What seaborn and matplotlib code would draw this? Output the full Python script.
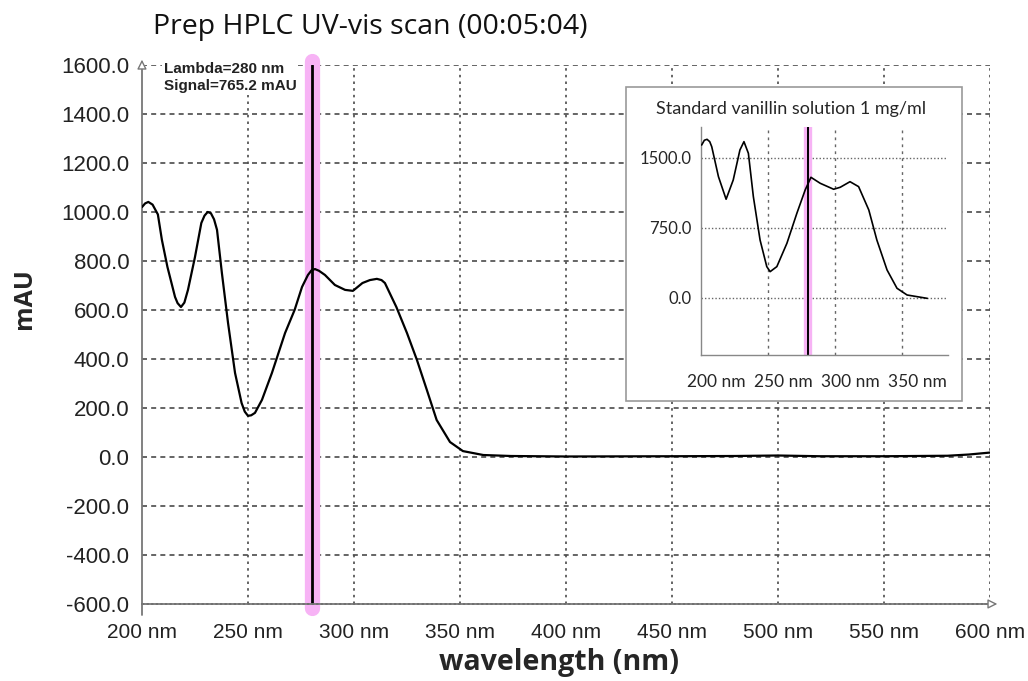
import numpy as np
import pandas as pd
import seaborn as sns
import matplotlib.pyplot as plt
import matplotlib.transforms as mtransforms
from matplotlib.patches import Rectangle

# main scan (Prep HPLC, 00:05:04)
wavelength = [200, 201.5, 203, 205, 207.5, 209.4, 212, 215.6, 216.8, 218.4, 220,
              221.7, 225, 228, 229.5, 231, 232.5, 234, 235.4, 237.7, 240.6,
              243.9, 247, 248.5, 250, 251.5, 253.3, 256.6, 261.3, 267.5,
              272, 275.5, 278.3, 280, 281.6, 283.5, 286.3, 291, 295.8, 299.5,
              304, 307.5, 310.8, 313, 314.6, 320, 325, 329.7, 334.4, 339,
              345.3, 351.4, 361, 374, 400, 450, 480, 500, 520, 550, 580, 590, 600]
signal = [1020, 1035, 1041, 1030, 990, 886, 776, 653, 628, 612, 630,
          682, 816, 955, 985, 1000, 995, 970, 927, 751, 547,
          343, 220, 185, 168, 170, 180, 233, 343, 506,
          600, 694, 743, 762, 767, 760, 743, 702, 682, 678,
          710, 722, 727, 722, 710, 612, 506, 396, 273, 151,
          61, 24, 8, 4, 2, 3, 4, 6, 3, 3, 5, 10, 18]

# standard vanillin 1 mg/ml
std_wavelength = [200.5, 202.5, 204.5, 206.5, 208, 213, 218.7, 224, 229, 232,
                  235.3, 239, 244, 249, 251.5, 256.5, 264, 271.4, 277.6, 281.9,
                  288.8, 298.8, 303.7, 311, 317.4, 325, 331, 338.6, 346, 353.5,
                  361, 368.5]
std_signal = [1639, 1690, 1700, 1675, 1621, 1300, 1058, 1264, 1586, 1675,
              1550, 1086, 621, 336, 282, 336, 586, 907, 1157, 1293,
              1229, 1165, 1186, 1246, 1193, 943, 621, 300, 104, 32,
              14, -4]

lambda_sel = 280
signal_sel = 765.2

main_xticks = [200, 250, 300, 350, 400, 450, 500, 550, 600]
main_yticks = [-600, -400, -200, 0, 200, 400, 600, 800, 1000, 1200, 1400, 1600]
inset_xticks = [200, 250, 300, 350]
inset_yticks = [0, 750, 1500]

sns.set_style("white")
plt.rcParams['font.family'] = ['Liberation Sans', 'DejaVu Sans']

fig = plt.figure(figsize=(10.28, 6.81), dpi=100)
ax = fig.add_axes([0.1381, 0.1131, 0.8249, 0.7915])

grid_col = "#4a4a4a"
for t in main_yticks[1:]:
    ax.axhline(t, color=grid_col, lw=1.2, ls=(0, (3, 2.5)), zorder=0)
for t in main_xticks[1:]:
    ax.axvline(t, color=grid_col, lw=1.2, ls=(0, (1.5, 2.5)), zorder=0)

ax.axvline(lambda_sel, ymin=-0.008, ymax=1.008, color="#f7b3f5", lw=11,
           solid_capstyle="round", clip_on=False, zorder=1)
ax.axvline(lambda_sel, color="black", lw=2, zorder=2)

df = pd.DataFrame({"wavelength": wavelength, "signal": signal})
sns.lineplot(data=df, x="wavelength", y="signal", ax=ax, color="black", lw=1.6, zorder=3)

ax.set_xlim(200, 600)
ax.set_ylim(-600, 1600)
ax.set_xticks(main_xticks)
ax.set_xticklabels([f"{t} nm" for t in main_xticks])
ax.set_yticks(main_yticks)
ax.set_yticklabels([f"{t:.1f}" for t in main_yticks])
ax.tick_params(axis="y", labelsize=16, length=8, width=1.2, color="#777777",
               labelcolor="#222222", pad=1)
ax.tick_params(axis="x", labelsize=15, length=0, pad=14, labelcolor="#222222")
for s in ["top", "right"]:
    ax.spines[s].set_visible(False)
ax.spines["left"].set_color("#777777")
ax.spines["left"].set_linewidth(1.3)
ax.spines["bottom"].set_color("#777777")
ax.spines["bottom"].set_linewidth(1.3)
ax.axhline(-600, color="black", lw=1.1, ls=(0, (1.5, 1.5)), zorder=2, clip_on=False)
ax.plot([0, 0], [-0.02, 0], transform=ax.transAxes, color="#777777", lw=1.3, clip_on=False)

# arrow heads on the axes
ax.annotate("", xy=(0, 1.015), xycoords="axes fraction", xytext=(0, 0.99),
            arrowprops=dict(arrowstyle="-|>", fc="white", ec="#777777", lw=1, mutation_scale=14))
ax.annotate("", xy=(1.012, 0), xycoords="axes fraction", xytext=(0.99, 0),
            arrowprops=dict(arrowstyle="-|>", fc="white", ec="#777777", lw=1, mutation_scale=14))

ax.text(0.026, 1.006, f"Lambda={lambda_sel} nm\nSignal={signal_sel} mAU",
        transform=ax.transAxes, ha="left", va="top", fontsize=11, fontweight="bold",
        color="#222222", linespacing=1.3,
        bbox=dict(boxstyle="square,pad=0.1", fc="white", ec="none"), zorder=4)

ax.set_xlabel("wavelength (nm)", fontsize=20.5, fontweight="bold", family="Open Sans",
              va="center")
ax.xaxis.set_label_coords(0.492, -0.108)
ax.set_ylabel("mAU", fontsize=18, fontweight="bold", family="Open Sans")
ax.yaxis.set_label_coords(-0.124, 0.566)
fig.text(153 / 1028, 1 - 27 / 681, "Prep HPLC UV-vis scan (00:05:04)", fontsize=20.5,
         family="Open Sans", ha="left", va="center", color="#111111")

# inset with the standard
box = Rectangle((626 / 1028, 1 - 401 / 681), 336 / 1028, 314 / 681,
                transform=fig.transFigure, fc="white", ec="#9a9a9a", lw=1.2, zorder=5)
fig.patches.append(box)
fig.text(791 / 1028, 1 - 109 / 681, "Standard vanillin solution 1 mg/ml",
         fontsize=13, family="Lato", ha="center", va="center", zorder=6)

axi = fig.add_axes([701 / 1028, 1 - 355 / 681, 247 / 1028, 228 / 681], zorder=6)
axi.patch.set_alpha(0)
for t in inset_yticks:
    axi.axhline(t, color="#666666", lw=1, ls=(0, (1, 1.5)), zorder=0)
for t in inset_xticks[1:]:
    axi.axvline(t, color="#666666", lw=1, ls=(0, (2, 3)), zorder=0)
axi.axvline(lambda_sel, color="#f7b3f5", lw=6, zorder=1)
axi.axvline(lambda_sel, color="black", lw=1.4, zorder=2)
dfi = pd.DataFrame({"wavelength": std_wavelength, "signal": std_signal})
sns.lineplot(data=dfi, x="wavelength", y="signal", ax=axi, color="black", lw=1.2, zorder=3)
axi.set_xlim(200, 384)
axi.set_ylim(-611, 1832)
axi.set_xticks(inset_xticks)
axi.set_xticklabels([f"{t} nm" for t in inset_xticks], family="Lato", fontsize=12.5)
axi.set_yticks(inset_yticks)
axi.set_yticklabels([f"{t:.1f}" for t in inset_yticks], family="Lato", fontsize=12)
axi.tick_params(axis="both", length=0)
axi.tick_params(axis="x", pad=14)
axi.tick_params(axis="y", pad=7)
offset = mtransforms.ScaledTranslation(0.15, 0, fig.dpi_scale_trans)
for lab in axi.get_xticklabels():
    lab.set_transform(lab.get_transform() + offset)
axi.set_xlabel("")
axi.set_ylabel("")
for s in ["top", "right"]:
    axi.spines[s].set_visible(False)
for s in ["left", "bottom"]:
    axi.spines[s].set_color("#888888")
    axi.spines[s].set_linewidth(1)

fig.savefig("out.png", dpi=100)
